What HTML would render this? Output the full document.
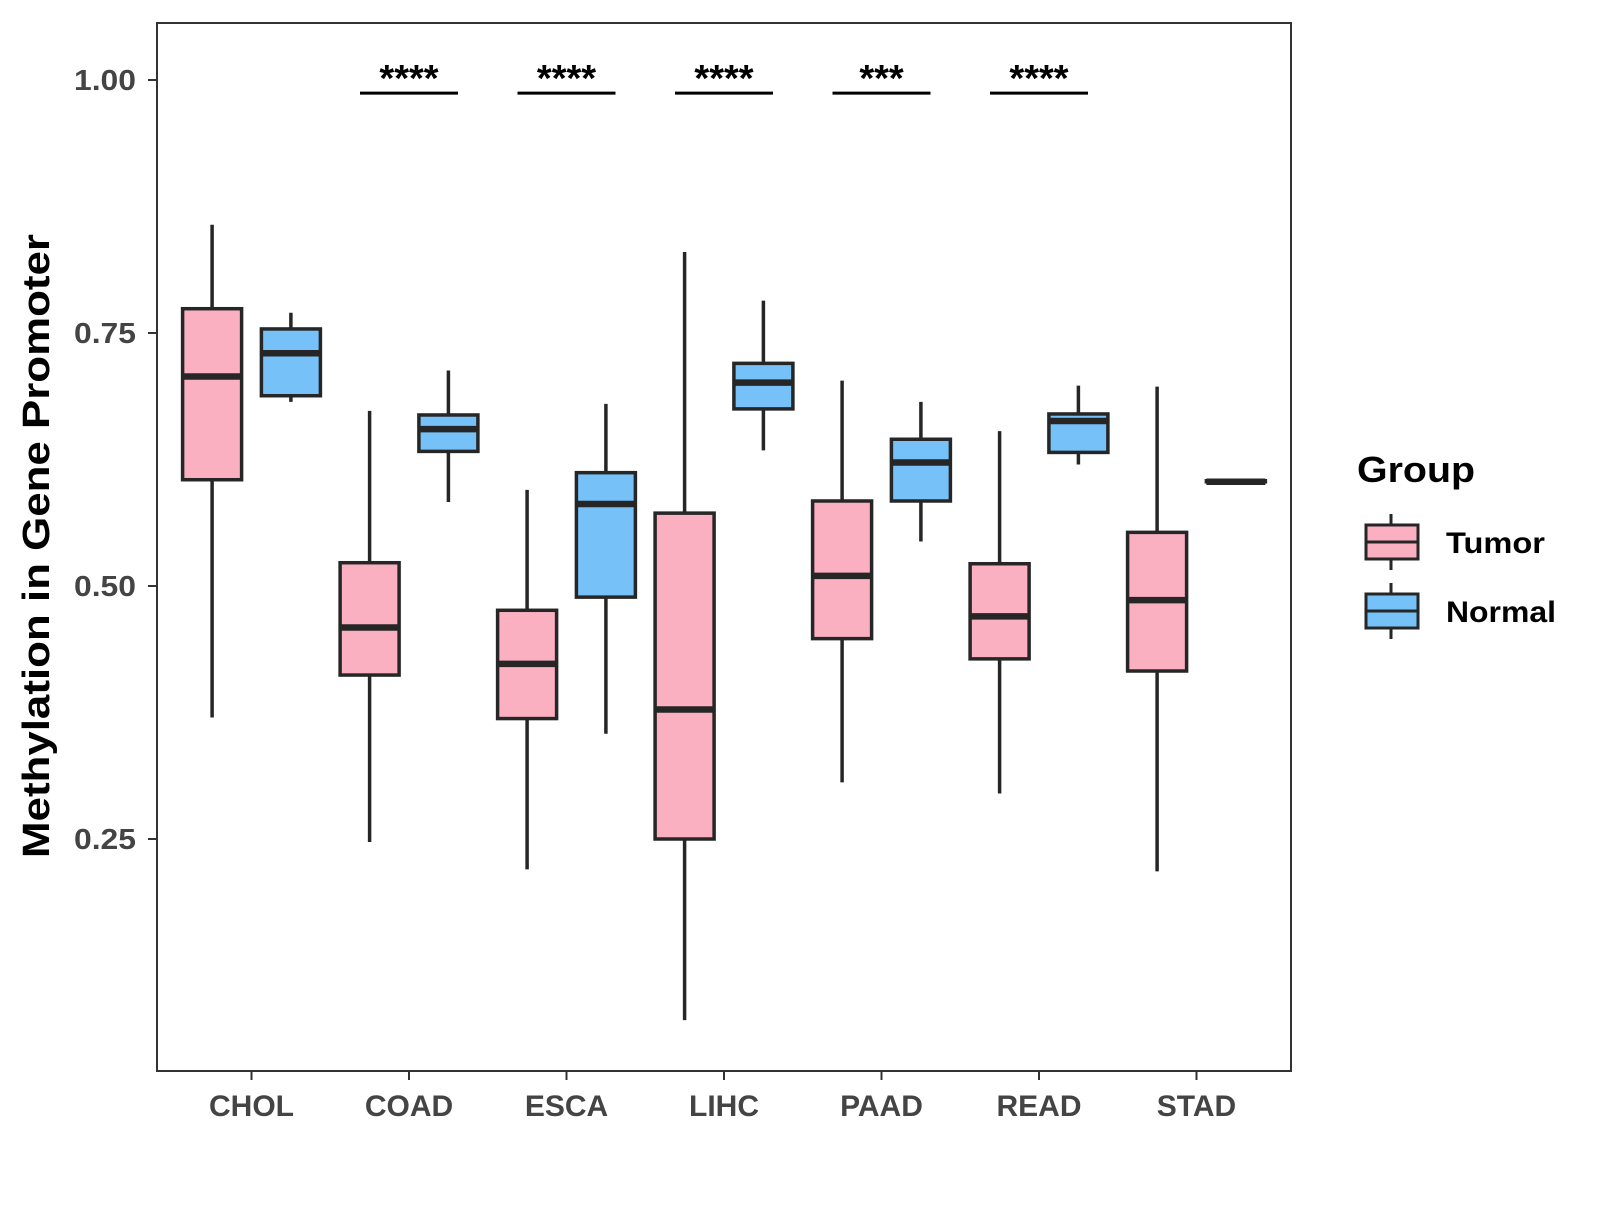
<!DOCTYPE html>
<html><head><meta charset="utf-8"><style>
body{margin:0;background:#fff}
svg text{font-family:"Liberation Sans",Arial,sans-serif;font-weight:bold}
</style></head><body>
<svg id="chart" width="1600" height="1200" viewBox="0 0 1600 1200" xmlns="http://www.w3.org/2000/svg">
<rect x="0" y="0" width="1600" height="1200" fill="#fff"/>
<g id="marks"></g>
<rect x="157" y="23" width="1134" height="1048" fill="none" stroke="#333" stroke-width="2"/>
<g id="axes"></g>
<text x="39" y="546" font-size="38" text-anchor="middle" dominant-baseline="middle" textLength="624" lengthAdjust="spacingAndGlyphs" transform="rotate(-90 39 546)">Methylation in Gene Promoter</text>
<g>
<text x="1357" y="482" font-size="36" textLength="118" lengthAdjust="spacingAndGlyphs">Group</text>
<g>
<line x1="1391" y1="514" x2="1391" y2="570" stroke="#262626" stroke-width="3"/>
<rect x="1366" y="525" width="52" height="34" fill="#FBB0C2" stroke="#262626" stroke-width="3"/>
<line x1="1366" y1="542" x2="1418" y2="542" stroke="#262626" stroke-width="3"/>
<text x="1446" y="553" font-size="30" textLength="99" lengthAdjust="spacingAndGlyphs">Tumor</text>
</g>
<g>
<line x1="1391" y1="583" x2="1391" y2="639" stroke="#262626" stroke-width="3"/>
<rect x="1366" y="594" width="52" height="34" fill="#75C1F8" stroke="#262626" stroke-width="3"/>
<line x1="1366" y1="611" x2="1418" y2="611" stroke="#262626" stroke-width="3"/>
<text x="1446" y="622" font-size="30" textLength="110" lengthAdjust="spacingAndGlyphs">Normal</text>
</g>
</g>
</svg>
<script>
const categories=["CHOL","COAD","ESCA","LIHC","PAAD","READ","STAD"];
const tumorLow=[0.370,0.247,0.220,0.071,0.306,0.295,0.218];
const tumorQ1=[0.605,0.412,0.369,0.250,0.448,0.428,0.416];
const tumorMed=[0.707,0.459,0.423,0.378,0.510,0.470,0.486];
const tumorQ3=[0.774,0.523,0.476,0.572,0.584,0.522,0.553];
const tumorHigh=[0.857,0.673,0.595,0.830,0.703,0.653,0.697];
const normalLow=[0.682,0.583,0.354,0.634,0.544,0.620,0.603];
const normalQ1=[0.688,0.633,0.489,0.675,0.584,0.632,0.603];
const normalMed=[0.730,0.655,0.581,0.701,0.622,0.663,0.603];
const normalQ3=[0.754,0.669,0.612,0.720,0.645,0.670,0.604];
const normalHigh=[0.770,0.713,0.680,0.782,0.682,0.698,0.604];
const sigLabels=["","****","****","****","***","****",""];
const yTicks=[0.25,0.5,0.75,1.0];
const yTickLabels=["0.25","0.50","0.75","1.00"];
const sigLevel=0.987;

const NS="http://www.w3.org/2000/svg";
const X0=157,CW=157.5;
const xScale=i=>X0+(0.6+i)*CW;
const yScale=v=>1092-v*1012;
function mk(tag,attrs,parent){const e=document.createElementNS(NS,tag);for(const k in attrs)e.setAttribute(k,attrs[k]);parent.appendChild(e);return e;}
const marks=document.getElementById('marks'),axes=document.getElementById('axes');
const BW=59;
function box(cx,lo,q1,md,q3,hi,fill,name){
  const g=mk('g',{},marks);
  
  
  mk('line',{x1:cx,x2:cx,y1:yScale(hi),y2:yScale(lo),stroke:'#262626','stroke-width':3.5},g);
  const h=Math.max(yScale(q1)-yScale(q3),0.5);
  mk('rect',{x:cx-BW/2,y:yScale(q3),width:BW,height:h,fill:fill,stroke:'#262626','stroke-width':3.5},g);
  mk('line',{x1:cx-BW/2,x2:cx+BW/2,y1:yScale(md),y2:yScale(md),stroke:'#262626','stroke-width':6.5},g);
}
categories.forEach((c,i)=>{
  const x=xScale(i);
  box(x-39.4,tumorLow[i],tumorQ1[i],tumorMed[i],tumorQ3[i],tumorHigh[i],'#FBB0C2','box-tumor-'+c.toLowerCase());
  box(x+39.4,normalLow[i],normalQ1[i],normalMed[i],normalQ3[i],normalHigh[i],'#75C1F8','box-normal-'+c.toLowerCase());
  if(sigLabels[i]){
    const g=mk('g',{},marks);
    
    
    mk('line',{x1:x-49,x2:x+49,y1:yScale(sigLevel),y2:yScale(sigLevel),stroke:'#000','stroke-width':3},g);
    const t=mk('text',{x:x,y:yScale(sigLevel)-2,'font-size':38,'text-anchor':'middle',fill:'#000'},g);
    t.textContent=sigLabels[i];
  }
  mk('line',{x1:x,x2:x,y1:1071,y2:1080,stroke:'#333','stroke-width':2},axes);
  const t=mk('text',{x:x,y:1116,'font-size':30,'text-anchor':'middle',fill:'#444'},axes);
  
  
  t.textContent=c;
});
yTicks.forEach((v,i)=>{
  const y=yScale(v);
  mk('line',{x1:148,x2:157,y1:y,y2:y,stroke:'#333','stroke-width':2},axes);
  const t=mk('text',{x:136,y:y+10,'font-size':29,'text-anchor':'end',fill:'#444','textLength':62,'lengthAdjust':'spacingAndGlyphs'},axes);
  
  
  t.textContent=yTickLabels[i];
});
</script>
</body></html>
